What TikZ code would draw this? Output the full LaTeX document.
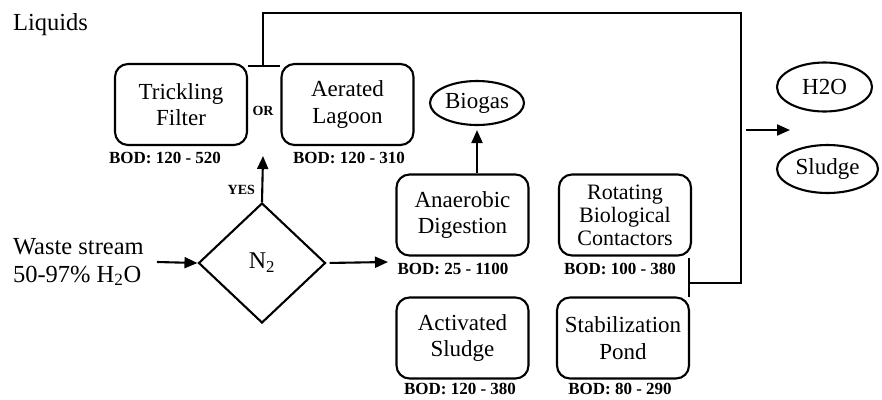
\documentclass[tikz,border=0pt]{standalone}
\usepackage{fontspec}
\setmainfont{Liberation Serif}
\usetikzlibrary{shapes.geometric,arrows.meta}
\begin{document}
\begin{tikzpicture}[x=1pt,y=-1pt,
  line width=2.1pt,
  proc/.style={draw, rounded corners=13pt, minimum width=132pt, minimum height=81pt,
    align=center, inner sep=0pt, font=\fontsize{23}{26.5}\selectfont},
  outcome/.style={draw, ellipse, inner sep=0pt, font=\fontsize{23}{26}\selectfont},
  bod/.style={font=\bfseries\fontsize{17}{20}\selectfont, inner sep=0pt},
  tag/.style={font=\bfseries\fontsize{14}{16}\selectfont, inner sep=0pt},
  txt/.style={font=\fontsize{24.5}{28}\selectfont, inner sep=0pt, align=left},
  flow/.style={-{Triangle[length=13pt,width=11pt]}},
]
\useasboundingbox (0,0) rectangle (882,399);

% labels on the left
\node[txt, anchor=west] (liq) at (12,25) {Liquids};
\node[txt, anchor=west] (ws) at (12,262) {Waste stream\\50-97\% H\textsubscript{2}O};

% decision
\node[draw, diamond, minimum width=127pt, minimum height=120pt, inner sep=0pt,
  font=\fontsize{24}{26}\selectfont] (n2) at (262,263) {N\textsubscript{2}};
\node[tag, anchor=east] (yes) at (256,190) {YES};

% aerobic alternatives
\node[proc] (tf) at (181,104.5) {Trickling\\Filter};
\node[tag] (or) at (263,111) {OR};
\node[proc] (al) at (347.5,104.5) {Aerated\\Lagoon};
\node[bod] (bodtf) at (165,158) {BOD: 120 - 520};
\node[bod] (bodal) at (349,158) {BOD: 120 - 310};

% other processes
\node[proc] (ad) at (462.5,215) {Anaerobic\\Digestion};
\node[bod] (bodad) at (453,269) {BOD: 25 - 1100};
\node[outcome, minimum width=94pt, minimum height=44pt] (bio) at (477,103) {Biogas};
\node[proc] (as) at (462.5,338) {Activated\\Sludge};
\node[bod] (bodas) at (460,389) {BOD: 120 - 380};
\node[proc, font=\fontsize{22}{23}\selectfont] (rbc) at (625,215) {Rotating\\Biological\\Contactors};
\node[bod] (bodrbc) at (620,269) {BOD: 100 - 380};
\node[proc] (sp) at (623,338) {Stabilization\\Pond};
\node[bod] (bodsp) at (620,389) {BOD: 80 - 290};

% products
\node[outcome, minimum width=95pt, minimum height=49pt] (h2o) at (824.5,87) {H2O};
\node[outcome, minimum width=101pt, minimum height=48pt] (sl) at (827.5,169) {Sludge};

% connectors
\coordinate (wsin) at (157,262);
\coordinate (adin) at (388,262);
\coordinate (yestip) at (263,156);
\draw[flow] (wsin) -- (n2.west);
\draw[flow, shorten <=3pt] (n2.east) -- (adin);
\draw[flow] (n2.north) -- (yestip);
\draw[flow, shorten >=4pt] (bio.south |- ad.north) -- (bio.south);

% collecting line to the products
\coordinate (barL) at (248,66);
\coordinate (barR) at (280,66);
\coordinate (j1) at (263,66);
\coordinate (c1) at (741,13);
\coordinate (j2) at (689,283);
\coordinate (barT) at (689,258);
\coordinate (barB) at (689,297);
\draw (barL) -- (barR);
\draw (barT) -- (barB);
\draw (j1) |- (c1) |- (j2);
\coordinate (outA) at (746,130);
\coordinate (outB) at (790,130);
\draw[flow] (outA) -- (outB);
\end{tikzpicture}
\end{document}
